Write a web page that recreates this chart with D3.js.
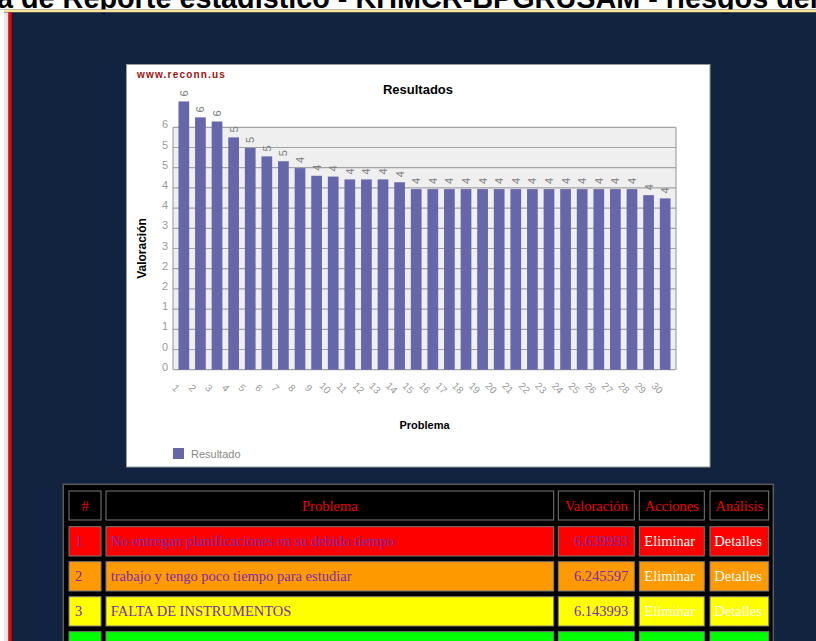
<!DOCTYPE html>
<html><head><meta charset="utf-8">
<script src="https://cdn.jsdelivr.net/npm/d3@7"></script>
<style>html,body{margin:0;padding:0;background:#11233e;overflow:hidden}svg{display:block}</style>
</head><body>
<svg id="c" width="816" height="641"></svg>
<script>
// ---------- DATA ----------
const pageTitle = "a de Reporte estadístico - KHMCR-BPGRUSAM - riesgos del";
const chartTitle = "Resultados";
const watermark = "www.reconn.us";
const xTitle = "Problema";
const yTitle = "Valoración";
const seriesName = "Resultado";
const categories = ["1","2","3","4","5","6","7","8","9","10","11","12","13","14","15",
  "16","17","18","19","20","21","22","23","24","25","26","27","28","29","30"];
const values = [6.639993, 6.245597, 6.143993, 5.75, 5.49, 5.28, 5.16, 4.99, 4.80, 4.78,
  4.71, 4.71, 4.71, 4.64, 4.47, 4.47, 4.47, 4.47, 4.47, 4.47, 4.47, 4.47, 4.47, 4.47,
  4.47, 4.47, 4.47, 4.47, 4.32, 4.24];
const yTicks = [0, 0.5, 1, 1.5, 2, 2.5, 3, 3.5, 4, 4.5, 5, 5.5, 6];

const tableHeaders = ["#", "Problema", "Valoración", "Acciones", "Análisis"];
const rowIds = ["1", "2", "3", ""];
const rowProblems = ["No entregan planificaciones en su debido tiempo",
  "trabajo y tengo poco tiempo para estudiar", "FALTA DE INSTRUMENTOS", ""];
const rowValues = ["6.639993", "6.245597", "6.143993", ""];
const rowActions = ["Eliminar", "Eliminar", "Eliminar", ""];
const rowAnalysis = ["Detalles", "Detalles", "Detalles", ""];
const rowColors = ["#ff0000", "#ff9900", "#ffff00", "#00ff00"];

// ---------- PAGE ----------
const W = 816, H = 641;
const svg = d3.select("#c");
const SANS = "'Liberation Sans', Arial, sans-serif";
const SERIF = "'Liberation Serif', 'Times New Roman', serif";

svg.append("rect").attr("width", W).attr("height", H).attr("fill", "#11233e");
svg.append("rect").attr("x", 0).attr("y", 0).attr("width", W).attr("height", 9.5).attr("fill", "#fff");

const tt = svg.append("text").text(pageTitle)
  .attr("x", -3).attr("y", 7.5)
  .attr("font-family", SANS).attr("font-weight", "bold").attr("font-size", 22).attr("fill", "#000");
const tlen = tt.node().getComputedTextLength();
if (tlen > 0) tt.attr("font-size", 22 * 821 / tlen);

svg.append("rect").attr("x", 0).attr("y", 9.5).attr("width", 4).attr("height", H).attr("fill", "#fff");
svg.append("rect").attr("x", 4).attr("y", 9.5).attr("width", W - 4).attr("height", 3).attr("fill", "#f9e49a");
svg.append("rect").attr("x", 4).attr("y", 12.5).attr("width", W - 4).attr("height", 1).attr("fill", "#11233e");
svg.append("rect").attr("x", 4).attr("y", 12.5).attr("width", 4.5).attr("height", H).attr("fill", "#e3e9ef");
svg.append("rect").attr("x", 8.5).attr("y", 12.5).attr("width", 3).attr("height", H).attr("fill", "#ff0000");

// ---------- CHART ----------
svg.append("rect").attr("x", 126.5).attr("y", 64.5).attr("width", 583.5).attr("height", 402.5)
  .attr("fill", "#fff").attr("stroke", "#9a9a9a");

const pL = 173, pR = 676, pT = 127.3, pB = 369.7;
const x = d3.scaleBand().domain(categories).range([pL, pR]).paddingInner(0.355).paddingOuter(0.33);
const y = d3.scaleLinear().domain([0, 6]).range([pB, pT]);

svg.append("rect").attr("x", pL).attr("y", pT).attr("width", pR - pL).attr("height", pB - pT).attr("fill", "#efefef");

svg.append("g").selectAll("line").data(yTicks).join("line")
  .attr("x1", pL).attr("x2", pR).attr("y1", d => y(d)).attr("y2", d => y(d))
  .attr("stroke", "#a3a3a3").attr("stroke-width", 1.2);
svg.append("line").attr("x1", pL).attr("x2", pL).attr("y1", pT).attr("y2", pB).attr("stroke", "#a3a3a3").attr("stroke-width", 1.2);
svg.append("line").attr("x1", pR).attr("x2", pR).attr("y1", pT).attr("y2", pB).attr("stroke", "#a3a3a3").attr("stroke-width", 1.2);

svg.append("g").selectAll("text").data(yTicks).join("text")
  .attr("x", 168).attr("y", d => y(d) - 3)
  .attr("text-anchor", "end").attr("dominant-baseline", "central")
  .attr("font-family", SANS).attr("font-size", 11).attr("fill", "#9a9a9a")
  .text(d => Math.floor(d));

const bars = categories.map((c, i) => ({c, v: values[i]}));
svg.append("g").selectAll("rect").data(bars).join("rect")
  .attr("x", d => x(d.c)).attr("y", d => y(d.v))
  .attr("width", x.bandwidth()).attr("height", d => y(0) - y(d.v))
  .attr("fill", "#6666aa");

svg.append("g").selectAll("text").data(bars).join("text")
  .attr("transform", d => `translate(${x(d.c) + x.bandwidth() / 2},${y(d.v) - 5}) rotate(-90)`)
  .attr("text-anchor", "start").attr("dominant-baseline", "central")
  .attr("font-family", SANS).attr("font-size", 11).attr("fill", "#808080")
  .text(d => Math.floor(d.v));

svg.append("g").selectAll("text").data(categories).join("text")
  .attr("transform", d => `translate(${x(d) + x.bandwidth() / 2 - 8},388) rotate(45)`)
  .attr("text-anchor", "middle").attr("dominant-baseline", "central")
  .attr("font-family", SANS).attr("font-size", 10).attr("fill", "#9a9a9a")
  .text(d => d);

svg.append("text").attr("x", 137).attr("y", 78).text(watermark)
  .attr("font-family", SANS).attr("font-weight", "bold").attr("font-size", 10)
  .attr("letter-spacing", 1.2).attr("fill", "#a01010");
svg.append("text").attr("x", 418).attr("y", 94).attr("text-anchor", "middle").text(chartTitle)
  .attr("font-family", SANS).attr("font-weight", "bold").attr("font-size", 13).attr("fill", "#000");
svg.append("text").attr("x", (pL + pR) / 2).attr("y", 429).attr("text-anchor", "middle").text(xTitle)
  .attr("font-family", SANS).attr("font-weight", "bold").attr("font-size", 11).attr("fill", "#000");
svg.append("text").attr("transform", `translate(146,${(pT + pB) / 2}) rotate(-90)`)
  .attr("text-anchor", "middle").text(yTitle)
  .attr("font-family", SANS).attr("font-weight", "bold").attr("font-size", 12).attr("fill", "#000");

svg.append("rect").attr("x", 173).attr("y", 448).attr("width", 11).attr("height", 11).attr("fill", "#6666aa");
svg.append("text").attr("x", 191).attr("y", 453.5).attr("dominant-baseline", "central").text(seriesName)
  .attr("font-family", SANS).attr("font-size", 11).attr("fill", "#888");

// ---------- TABLE ----------
svg.append("rect").attr("x", 63.3).attr("y", 484.3).attr("width", 710).attr("height", 200)
  .attr("fill", "#000").attr("stroke", "#5a5a5a").attr("stroke-width", 1.5);

const cols = [
  {x0: 69, x1: 101, align: "left", pad: 6},
  {x0: 106, x1: 553.7, align: "left", pad: 4.7},
  {x0: 558.3, x1: 634.3, align: "right", pad: 6},
  {x0: 639.3, x1: 704.3, align: "left", pad: 5},
  {x0: 710, x1: 768.7, align: "left", pad: 4.3}
];
const hg = svg.append("g");
hg.selectAll("rect").data(tableHeaders).join("rect")
  .attr("x", (d, i) => cols[i].x0).attr("y", 491)
  .attr("width", (d, i) => cols[i].x1 - cols[i].x0).attr("height", 29)
  .attr("fill", "#000").attr("stroke", "#7a7a7a");
hg.selectAll("text").data(tableHeaders).join("text")
  .attr("x", (d, i) => (cols[i].x0 + cols[i].x1) / 2).attr("y", 511)
  .attr("text-anchor", "middle")
  .attr("font-family", SERIF).attr("font-size", 14.5).attr("fill", "#ee0000")
  .text(d => d);

const rows = rowIds.map((id, i) => ({
  color: rowColors[i],
  cells: [id, rowProblems[i], rowValues[i], rowActions[i], rowAnalysis[i]]
}));
const rowY = d3.scaleLinear().domain([0, 1]).range([526.7, 561.7]);
const rg = svg.append("g").selectAll("g").data(rows).join("g")
  .attr("transform", (d, i) => `translate(0,${rowY(i)})`);
rg.selectAll("rect").data(d => d.cells.map(c => ({c, color: d.color}))).join("rect")
  .attr("x", (d, i) => cols[i].x0).attr("y", 0)
  .attr("width", (d, i) => cols[i].x1 - cols[i].x0).attr("height", 29.3)
  .attr("fill", d => d.color).attr("stroke", "#7a7a7a");
rg.selectAll("text").data(d => d.cells).join("text")
  .attr("x", (d, i) => cols[i].align === "right" ? cols[i].x1 - cols[i].pad : cols[i].x0 + cols[i].pad)
  .attr("y", 19.5)
  .attr("text-anchor", (d, i) => cols[i].align === "right" ? "end" : "start")
  .attr("font-family", SERIF).attr("font-size", 14.5)
  .attr("fill", (d, i) => i >= 3 ? "#ffffff" : "#7b2cb0")
  .text(d => d);
</script>
</body></html>
